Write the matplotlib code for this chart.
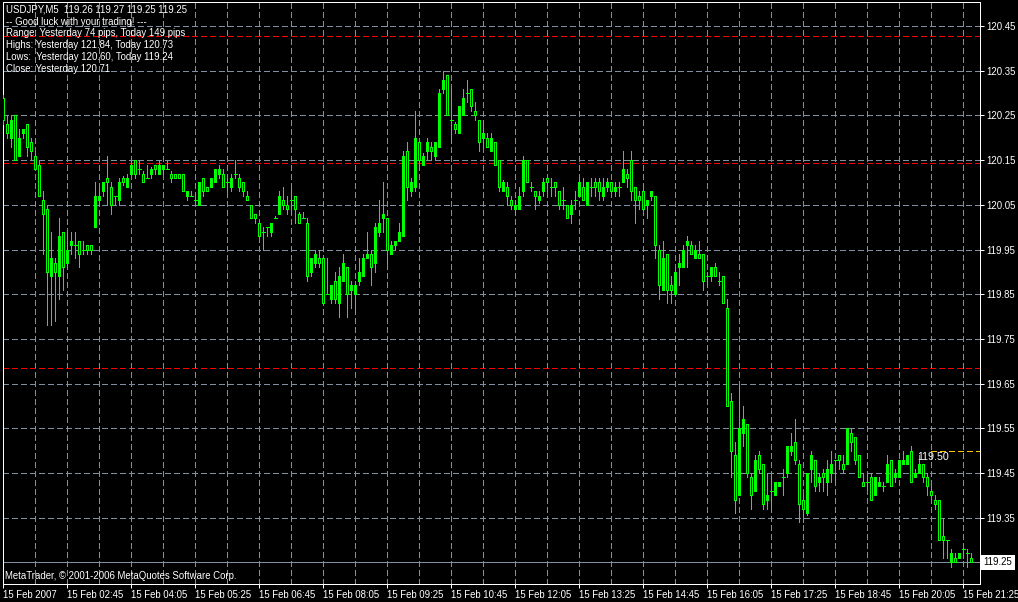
import matplotlib
matplotlib.use("Agg")
import matplotlib.pyplot as plt
import numpy as np

# ---------------- data ----------------
opens = [
    120.29, 120.23, 120.20, 120.25, 120.16, 120.21, 120.23, 120.19, 120.16, 120.14,
    120.06, 120.04, 119.89, 119.92, 119.89, 119.99, 119.92, 119.96, 119.96, 119.97,
    119.95, 119.96, 119.96, 120.00, 120.06, 120.08, 120.11, 120.09, 120.07, 120.06,
    120.11, 120.09, 120.12, 120.15, 120.13, 120.12, 120.11, 120.12, 120.14, 120.12,
    120.13, 120.13, 120.12, 120.12, 120.12, 120.12, 120.07, 120.07, 120.06, 120.05,
    120.11, 120.09, 120.09, 120.10, 120.12, 120.12, 120.10, 120.09, 120.12, 120.11,
    120.10, 120.07, 120.05, 120.03, 120.01, 119.99, 120.00, 119.99, 120.02, 120.03,
    120.06, 120.05, 120.06, 120.07, 120.03, 120.02, 120.01, 119.90, 119.92, 119.93,
    119.93, 119.85, 119.84, 119.88, 119.83, 119.88, 119.91, 119.86, 119.85, 119.88,
    119.89, 119.93, 119.94, 119.92, 119.99, 120.02, 120.02, 119.94, 119.96, 119.97,
    119.98, 120.17, 120.08, 120.09, 120.19, 120.14, 120.17, 120.18, 120.16, 120.18,
    120.31, 120.34, 120.24, 120.23, 120.21, 120.25, 120.30, 120.31, 120.26, 120.24,
    120.20, 120.20, 120.17, 120.19, 120.15, 120.08, 120.09, 120.06, 120.04, 120.04,
    120.08, 120.15, 120.09, 120.08, 120.06, 120.08, 120.11, 120.09, 120.10, 120.08,
    120.06, 120.05, 120.03, 120.06, 120.07, 120.09, 120.05, 120.09, 120.10, 120.10,
    120.07, 120.09, 120.10, 120.08, 120.09, 120.10, 120.12, 120.15, 120.09, 120.07,
    120.08, 120.05, 120.07, 120.07, 119.95, 119.86, 119.94, 119.87, 119.85, 119.91,
    119.91, 119.96, 119.96, 119.93, 119.94, 119.94, 119.89, 119.89, 119.91, 119.88,
    119.89, 119.82, 119.61, 119.49, 119.40, 119.54, 119.56, 119.44, 119.41, 119.49,
    119.47, 119.39, 119.41, 119.40, 119.42, 119.44, 119.45, 119.50, 119.52, 119.47,
    119.39, 119.36, 119.46, 119.48, 119.43, 119.45, 119.43, 119.45, 119.48, 119.49,
    119.47, 119.47, 119.54, 119.53, 119.49, 119.43, 119.43, 119.44, 119.40, 119.42,
    119.42, 119.43, 119.48, 119.44, 119.44, 119.47, 119.47, 119.50, 119.44, 119.45,
    119.47, 119.44, 119.41, 119.39, 119.39, 119.31, 119.30, 119.25, 119.26, 119.26,
    119.28, 119.27, 119.26,
]
highs = [
    120.295, 120.25, 120.25, 120.25, 120.22, 120.22, 120.23, 120.20, 120.165, 120.15,
    120.08, 120.05, 119.99, 119.93, 120.02, 119.99, 119.985, 119.99, 119.99, 119.97,
    119.97, 119.96, 119.96, 120.10, 120.09, 120.10, 120.16, 120.10, 120.07, 120.11,
    120.115, 120.12, 120.15, 120.15, 120.15, 120.125, 120.14, 120.135, 120.14, 120.15,
    120.14, 120.15, 120.125, 120.12, 120.12, 120.12, 120.08, 120.08, 120.07, 120.10,
    120.11, 120.09, 120.11, 120.13, 120.14, 120.13, 120.11, 120.12, 120.15, 120.12,
    120.10, 120.08, 120.05, 120.03, 120.01, 120.00, 120.00, 120.01, 120.025, 120.08,
    120.09, 120.07, 120.09, 120.07, 120.035, 120.035, 120.02, 119.93, 119.95, 119.95,
    119.93, 119.93, 119.87, 119.90, 119.91, 119.94, 119.91, 119.88, 119.88, 119.93,
    119.94, 119.99, 119.95, 120.01, 120.06, 120.10, 120.02, 119.97, 119.97, 120.01,
    120.17, 120.19, 120.11, 120.26, 120.19, 120.165, 120.20, 120.19, 120.19, 120.31,
    120.35, 120.34, 120.31, 120.235, 120.27, 120.31, 120.33, 120.31, 120.28, 120.24,
    120.24, 120.21, 120.21, 120.19, 120.15, 120.105, 120.10, 120.07, 120.06, 120.09,
    120.16, 120.15, 120.10, 120.08, 120.08, 120.11, 120.11, 120.11, 120.10, 120.08,
    120.09, 120.05, 120.06, 120.08, 120.11, 120.11, 120.10, 120.11, 120.11, 120.11,
    120.11, 120.11, 120.10, 120.10, 120.10, 120.17, 120.13, 120.17, 120.09, 120.08,
    120.085, 120.06, 120.08, 120.07, 119.96, 119.97, 119.94, 119.89, 119.91, 119.94,
    119.96, 119.98, 119.97, 119.96, 119.97, 119.94, 119.90, 119.91, 119.92, 119.90,
    119.89, 119.84, 119.63, 119.52, 119.65, 119.60, 119.56, 119.45, 119.49, 119.50,
    119.47, 119.45, 119.44, 119.43, 119.43, 119.46, 119.51, 119.54, 119.57, 119.48,
    119.40, 119.45, 119.50, 119.48, 119.45, 119.46, 119.48, 119.50, 119.48, 119.49,
    119.49, 119.55, 119.55, 119.53, 119.49, 119.45, 119.45, 119.45, 119.44, 119.44,
    119.43, 119.49, 119.48, 119.46, 119.48, 119.50, 119.49, 119.51, 119.46, 119.49,
    119.47, 119.45, 119.42, 119.40, 119.39, 119.35, 119.30, 119.28, 119.27, 119.27,
    119.28, 119.28, 119.27,
]
lows = [
    120.23, 120.20, 120.18, 120.15, 120.16, 120.20, 120.16, 120.15, 120.13, 120.07,
    119.94, 119.78, 119.78, 119.79, 119.84, 119.86, 119.91, 119.94, 119.93, 119.91,
    119.94, 119.94, 119.94, 120.00, 120.05, 120.07, 120.05, 120.03, 120.05, 120.05,
    120.095, 120.09, 120.12, 120.11, 120.12, 120.10, 120.11, 120.11, 120.12, 120.12,
    120.12, 120.13, 120.10, 120.11, 120.11, 120.08, 120.06, 120.07, 120.055, 120.05,
    120.07, 120.08, 120.09, 120.10, 120.11, 120.09, 120.08, 120.08, 120.11, 120.08,
    120.07, 120.06, 120.02, 120.01, 119.98, 119.95, 119.98, 119.98, 120.02, 120.03,
    120.04, 120.03, 120.03, 120.01, 120.01, 120.02, 119.88, 119.89, 119.91, 119.91,
    119.83, 119.85, 119.83, 119.83, 119.80, 119.88, 119.80, 119.82, 119.81, 119.87,
    119.89, 119.93, 119.87, 119.90, 119.98, 119.99, 119.92, 119.94, 119.95, 119.97,
    119.98, 120.06, 120.07, 120.08, 120.13, 120.14, 120.15, 120.15, 120.15, 120.18,
    120.30, 120.25, 120.19, 120.21, 120.21, 120.25, 120.28, 120.26, 120.24, 120.17,
    120.18, 120.18, 120.17, 120.14, 120.08, 120.08, 120.05, 120.04, 120.03, 120.04,
    120.07, 120.10, 120.08, 120.04, 120.055, 120.07, 120.08, 120.07, 120.07, 120.04,
    120.04, 120.02, 120.01, 120.04, 120.07, 120.06, 120.05, 120.07, 120.07, 120.06,
    120.06, 120.08, 120.08, 120.07, 120.07, 120.10, 120.09, 120.06, 120.01, 120.04,
    120.04, 120.02, 120.06, 119.93, 119.84, 119.86, 119.83, 119.83, 119.85, 119.87,
    119.91, 119.91, 119.94, 119.93, 119.93, 119.86, 119.87, 119.88, 119.89, 119.87,
    119.83, 119.60, 119.44, 119.36, 119.40, 119.51, 119.44, 119.37, 119.41, 119.45,
    119.37, 119.37, 119.37, 119.40, 119.42, 119.40, 119.44, 119.49, 119.47, 119.34,
    119.34, 119.355, 119.43, 119.41, 119.41, 119.41, 119.40, 119.43, 119.43, 119.46,
    119.45, 119.47, 119.50, 119.47, 119.44, 119.42, 119.41, 119.39, 119.40, 119.42,
    119.41, 119.43, 119.42, 119.43, 119.44, 119.47, 119.47, 119.43, 119.44, 119.45,
    119.43, 119.40, 119.39, 119.37, 119.30, 119.26, 119.26, 119.24, 119.25, 119.26,
    119.26, 119.24, 119.25,
]
closes = [
    120.24, 120.21, 120.24, 120.15, 120.20, 120.22, 120.18, 120.17, 120.13, 120.07,
    120.03, 119.90, 119.93, 119.90, 119.98, 119.91, 119.95, 119.97, 119.96, 119.94,
    119.95, 119.95, 119.95, 120.07, 120.07, 120.10, 120.10, 120.05, 120.07, 120.10,
    120.10, 120.11, 120.14, 120.12, 120.13, 120.10, 120.11, 120.13, 120.13, 120.14,
    120.14, 120.13, 120.11, 120.11, 120.11, 120.08, 120.08, 120.07, 120.06, 120.10,
    120.08, 120.08, 120.11, 120.13, 120.13, 120.09, 120.10, 120.11, 120.12, 120.09,
    120.08, 120.06, 120.02, 120.02, 119.98, 119.99, 120.00, 120.01, 120.02, 120.07,
    120.05, 120.04, 120.06, 120.04, 120.01, 120.02, 119.89, 119.93, 119.94, 119.92,
    119.83, 119.85, 119.87, 119.84, 119.89, 119.92, 119.85, 119.87, 119.87, 119.90,
    119.93, 119.94, 119.91, 120.00, 120.01, 120.03, 119.95, 119.96, 119.97, 119.99,
    120.16, 120.09, 120.10, 120.20, 120.15, 120.16, 120.19, 120.17, 120.19, 120.30,
    120.33, 120.25, 120.24, 120.22, 120.27, 120.29, 120.30, 120.27, 120.25, 120.19,
    120.21, 120.18, 120.20, 120.14, 120.09, 120.10, 120.07, 120.05, 120.05, 120.07,
    120.15, 120.10, 120.09, 120.07, 120.07, 120.10, 120.10, 120.09, 120.09, 120.05,
    120.06, 120.02, 120.05, 120.06, 120.10, 120.06, 120.10, 120.09, 120.09, 120.08,
    120.09, 120.10, 120.08, 120.09, 120.09, 120.13, 120.11, 120.08, 120.06, 120.06,
    120.04, 120.06, 120.08, 119.96, 119.87, 119.93, 119.86, 119.86, 119.90, 119.92,
    119.95, 119.97, 119.94, 119.95, 119.93, 119.88, 119.89, 119.91, 119.89, 119.88,
    119.83, 119.60, 119.50, 119.39, 119.55, 119.57, 119.45, 119.40, 119.48, 119.46,
    119.38, 119.40, 119.41, 119.43, 119.43, 119.44, 119.51, 119.51, 119.48, 119.38,
    119.37, 119.45, 119.49, 119.42, 119.44, 119.44, 119.46, 119.47, 119.48, 119.48,
    119.46, 119.55, 119.52, 119.48, 119.44, 119.42, 119.43, 119.39, 119.44, 119.43,
    119.42, 119.47, 119.42, 119.45, 119.48, 119.48, 119.49, 119.43, 119.45, 119.47,
    119.44, 119.42, 119.40, 119.38, 119.30, 119.30, 119.30, 119.27, 119.25, 119.27,
    119.28, 119.27, 119.25,
]

time_labels = ["15 Feb 2007", "15 Feb 02:45", "15 Feb 04:05", "15 Feb 05:25",
               "15 Feb 06:45", "15 Feb 08:05", "15 Feb 09:25", "15 Feb 10:45",
               "15 Feb 12:05", "15 Feb 13:25", "15 Feb 14:45", "15 Feb 16:05",
               "15 Feb 17:25", "15 Feb 18:45", "15 Feb 20:05", "15 Feb 21:25"]
price_ticks = [119.35, 119.45, 119.55, 119.65, 119.75, 119.85, 119.95,
               120.05, 120.15, 120.25, 120.35, 120.45]
red_levels = [120.428, 120.143, 119.686]
hline_level = 119.50
hline_start_bar = 232
bid_price = 119.25

header_lines = ["USDJPY,M5  119.26 119.27 119.25 119.25",
                "-- Good luck with your trading! ---",
                "Range: Yesterday 74 pips, Today 149 pips",
                "Highs: Yesterday 121.84, Today 120.73",
                "Lows:  Yesterday 120.60, Today 119.24",
                "Close: Yesterday 120.71"]
copyright_text = "MetaTrader, \u00a9 2001-2006 MetaQuotes Software Corp."

# ---------------- style ----------------
plt.rcParams['font.family'] = ['Liberation Sans', 'DejaVu Sans']
plt.rcParams['lines.scale_dashes'] = False
FS = 6.9
W, H = 1018, 602
LIME = '#00ff00'
GRID = '#8090a0'
PX = 0.72  # one pixel in points at dpi 100

fig = plt.figure(figsize=(W / 100, H / 100), dpi=100, facecolor='black')
ax = fig.add_axes([3 / W, (H - 584) / H, 977 / W, 582 / H])
ax.set_facecolor('black')

n = len(opens)
xs = np.arange(n)
XMAX = 244.175
ax.set_xlim(-0.075, XMAX)
ax.set_ylim(119.2017, 120.5037)

# grid
dash = (3.6, 2.2)
for gx in range(8, n, 8):
    ax.axvline(gx, color=GRID, lw=PX, dashes=dash, zorder=1, antialiased=False)
for gy in price_ticks:
    ax.axhline(gy, color=GRID, lw=PX, dashes=dash, zorder=1, antialiased=False)

# level lines
for lv in red_levels:
    ax.axhline(lv, color='#ff0000', lw=PX, dashes=dash, zorder=2, antialiased=False)
ax.axhline(bid_price, color=GRID, lw=PX, zorder=2, antialiased=False)
ax.plot([hline_start_bar - 0.2, XMAX], [hline_level, hline_level], color='#ffc800',
        lw=PX, dashes=dash, zorder=2, antialiased=False)
ax.text(hline_start_bar - 3.6, hline_level - 0.014, f"{hline_level:.2f}",
        color='white', fontsize=FS + 0.8, ha='left', va='center', zorder=6)

# candles
o = np.array(opens); c = np.array(closes); h = np.array(highs); l = np.array(lows)
ax.vlines(xs, l, h, color=LIME, lw=PX, zorder=3, antialiased=False)
bull = c > o
bear = c < o
doji = c == o
bot = np.minimum(o, c)
hgt = np.abs(c - o)
ax.bar(xs[bull], hgt[bull], bottom=bot[bull], width=0.55, facecolor=LIME,
       edgecolor=LIME, lw=PX, zorder=4, antialiased=False)
ax.bar(xs[bear], hgt[bear], bottom=bot[bear], width=0.55, facecolor='black',
       edgecolor=LIME, lw=PX, zorder=4, antialiased=False)
ax.hlines(o[doji], xs[doji] - 0.375, xs[doji] + 0.375, color=LIME, lw=PX,
          zorder=4, antialiased=False)

# axes / ticks
for s in ['left', 'right', 'bottom', 'top']:
    ax.spines[s].set_color('white')
    ax.spines[s].set_linewidth(PX)
ax.yaxis.tick_right()
ax.set_yticks(price_ticks)
ax.set_yticklabels([f"{p:.2f}" for p in price_ticks])
ax.tick_params(axis='y', colors='white', labelcolor='white', length=2.9,
               width=PX, pad=1.5, labelsize=FS)
ax.set_xticks(range(0, n, 16))
ax.set_xticklabels(time_labels)
ax.tick_params(axis='x', colors='white', labelcolor='white', length=2.9,
               width=PX, pad=1.2, labelsize=FS)
for t in ax.get_xticklabels():
    t.set_horizontalalignment('left')

# bid price box
ax.text(1.0035, bid_price, f"{bid_price:.2f}", transform=ax.get_yaxis_transform(),
        color='black', fontsize=FS, ha='left', va='center', zorder=10, clip_on=False,
        bbox=dict(boxstyle='square,pad=0.25', fc='white', ec='white', lw=0))

# header text
for k, line in enumerate(header_lines):
    fig.text(6 / W, 1 - (10 + 11.7 * k) / H, line, color='white', fontsize=FS,
             ha='left', va='center')
fig.text(5 / W, 1 - 576 / H, copyright_text, color='white', fontsize=FS,
         ha='left', va='center')

fig.savefig('out.png', dpi=100, facecolor='black')
